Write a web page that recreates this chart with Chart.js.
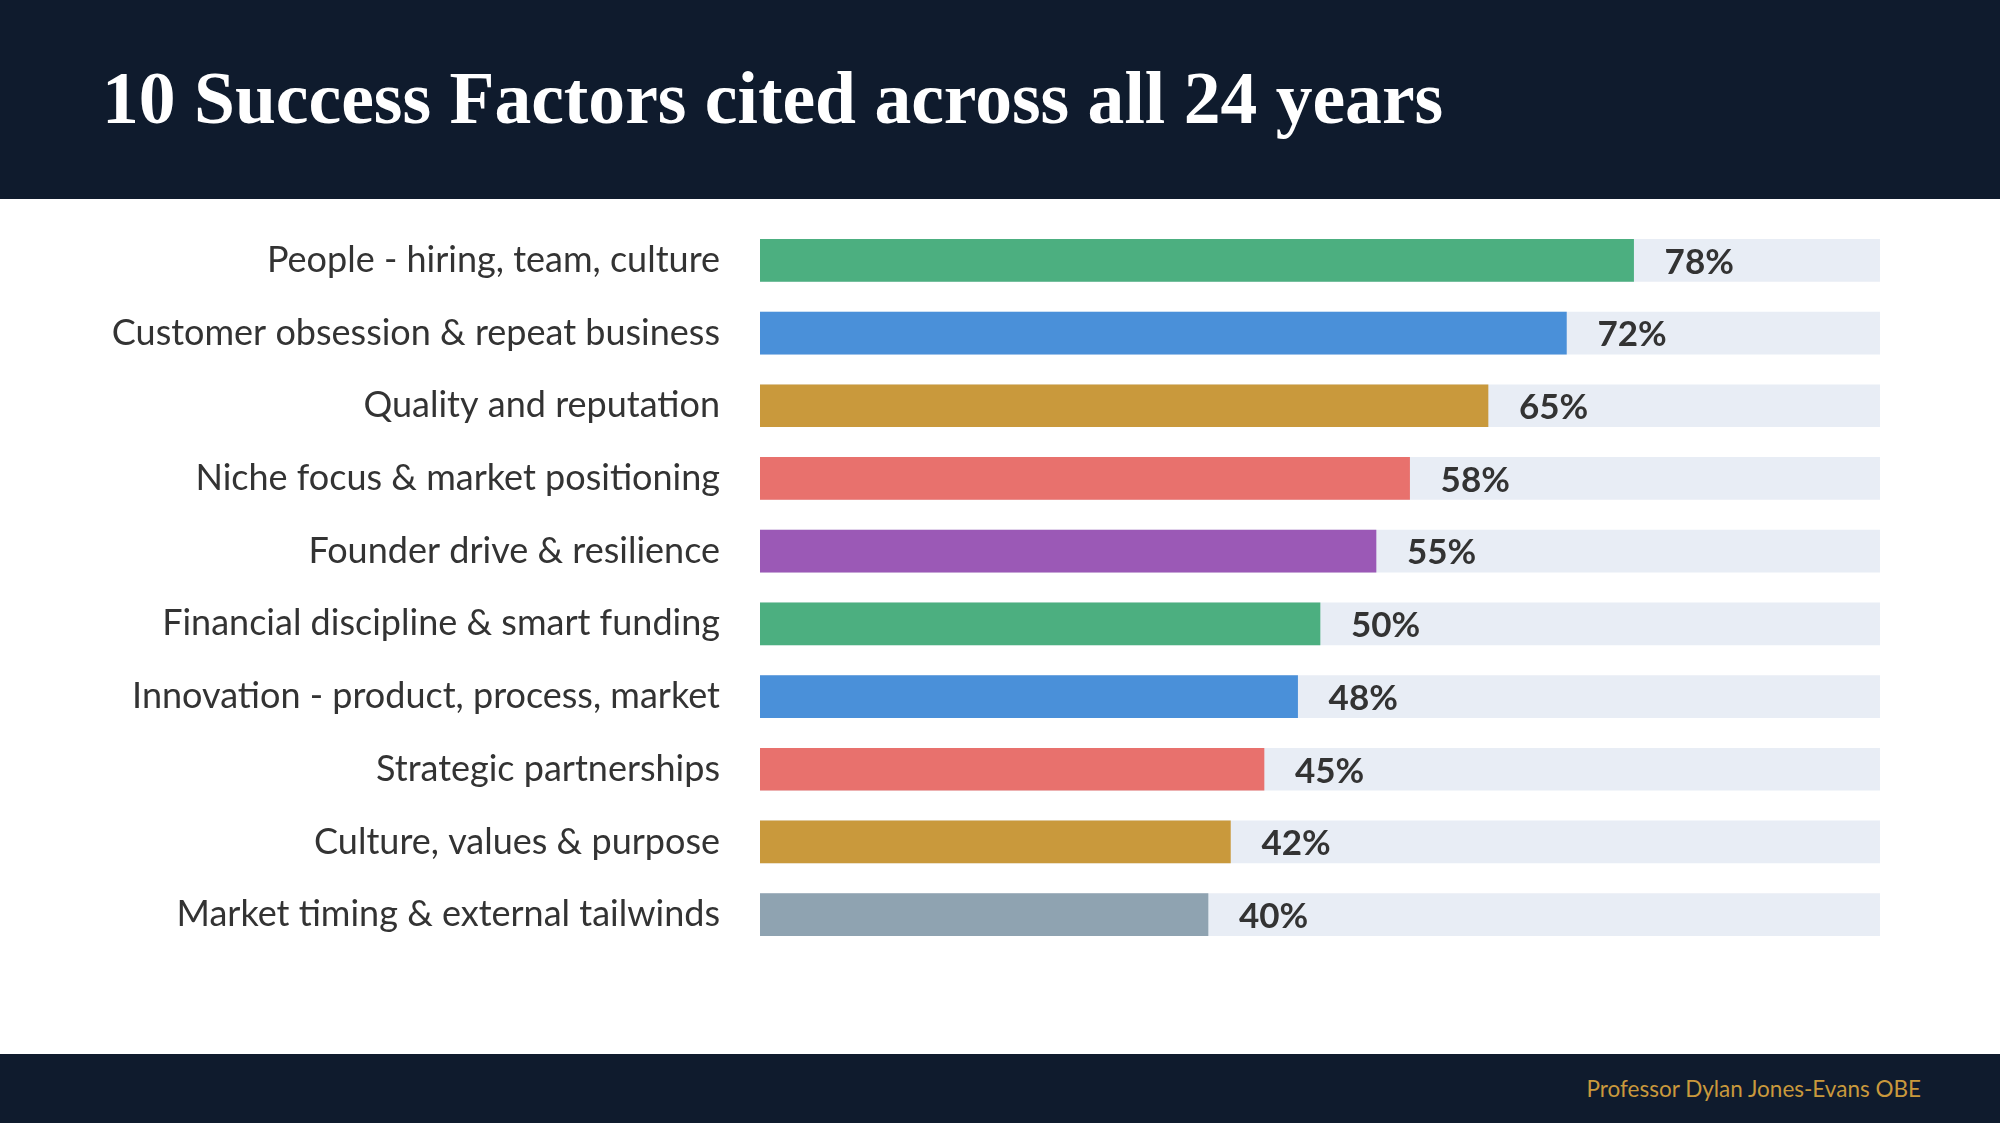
<!DOCTYPE html>
<html>
<head>
<meta charset="utf-8">
<script src="https://cdn.jsdelivr.net/npm/chart.js@4.4.1/dist/chart.umd.min.js"></script>
<style>
  html, body { margin: 0; padding: 0; background: #fff; }
  body { width: 2000px; height: 1123px; position: relative; overflow: hidden; }
  #header { position: absolute; left: 0; top: 0; width: 2000px; height: 199px; background: #0f1b2d; z-index: 2; }
  #title { position: absolute; left: 102px; top: 62px; color: #fff; font-family: "Liberation Serif", serif; font-weight: bold; font-size: 64px; white-space: nowrap; line-height: 1; }
  #footer { position: absolute; left: 0; top: 1054px; width: 2000px; height: 69px; background: #0f1b2d; z-index: 2; }
  #credit { position: absolute; right: 79px; top: 21px; color: #c9993c; font-family: Lato, sans-serif; font-size: 22.5px; }
  #wrap { position: absolute; left: 0; top: 0; width: 2000px; height: 1123px; }
</style>
</head>
<body>
<div id="header"><div id="title">10 Success Factors cited across all 24 years</div></div>
<div id="wrap"><canvas id="factorsChart" width="2000" height="1123"></canvas></div>
<div id="footer"><div id="credit">Professor Dylan Jones-Evans OBE</div></div>
<script>
const factors = [
    'People - hiring, team, culture',
    'Customer obsession & repeat business',
    'Quality and reputation',
    'Niche focus & market positioning',
    'Founder drive & resilience',
    'Financial discipline & smart funding',
    'Innovation - product, process, market',
    'Strategic partnerships',
    'Culture, values & purpose',
    'Market timing & external tailwinds'
];
const shares = [78, 72, 65, 58, 55, 50, 48, 45, 42, 40];
const fullScale = [100, 100, 100, 100, 100, 100, 100, 100, 100, 100];
const barColors = ['#4caf80', '#4a90d9', '#c9993c', '#e8716d', '#9b59b6',
                   '#4caf80', '#4a90d9', '#e8716d', '#c9993c', '#8fa3b1'];

// stretch the title to the width it has in the slide
const title = document.getElementById('title');
title.style.fontSize = (64 * 1342 / title.offsetWidth) + 'px';

// percent labels to the right of each bar
const valueLabels = {
    id: 'valueLabels',
    afterDatasetsDraw(chart) {
        const c = chart.ctx;
        const meta = chart.getDatasetMeta(1);
        c.save();
        c.font = 'bold 35px Lato';
        c.fillStyle = '#333333';
        c.textBaseline = 'middle';
        meta.data.forEach((bar, i) => {
            c.fillText(shares[i] + '%', bar.x + 31, bar.y + 2);
        });
        c.restore();
    }
};

const ctx = document.getElementById('factorsChart').getContext('2d');
new Chart(ctx, {
    type: 'bar',
    data: {
        labels: factors,
        datasets: [{
            data: fullScale,
            backgroundColor: '#e8edf5',
            barThickness: 42,
            order: 2
        }, {
            data: shares,
            backgroundColor: barColors,
            barThickness: 42,
            order: 1
        }]
    },
    options: {
        indexAxis: 'y',
        responsive: false,
        animation: false,
        grouped: false,
        layout: { padding: { top: 224, bottom: 172, right: 120, left: 0 } },
        scales: {
            x: {
                min: 0,
                max: 100,
                display: false
            },
            y: {
                grid: { display: false },
                border: { display: false },
                afterFit: (s) => { s.width = 760; },
                ticks: {
                    color: '#333333',
                    padding: 32,
                    font: { family: 'Lato', size: 36 }
                }
            }
        },
        plugins: {
            legend: { display: false },
            tooltip: { enabled: false }
        }
    },
    plugins: [valueLabels]
});
</script>
</body>
</html>
